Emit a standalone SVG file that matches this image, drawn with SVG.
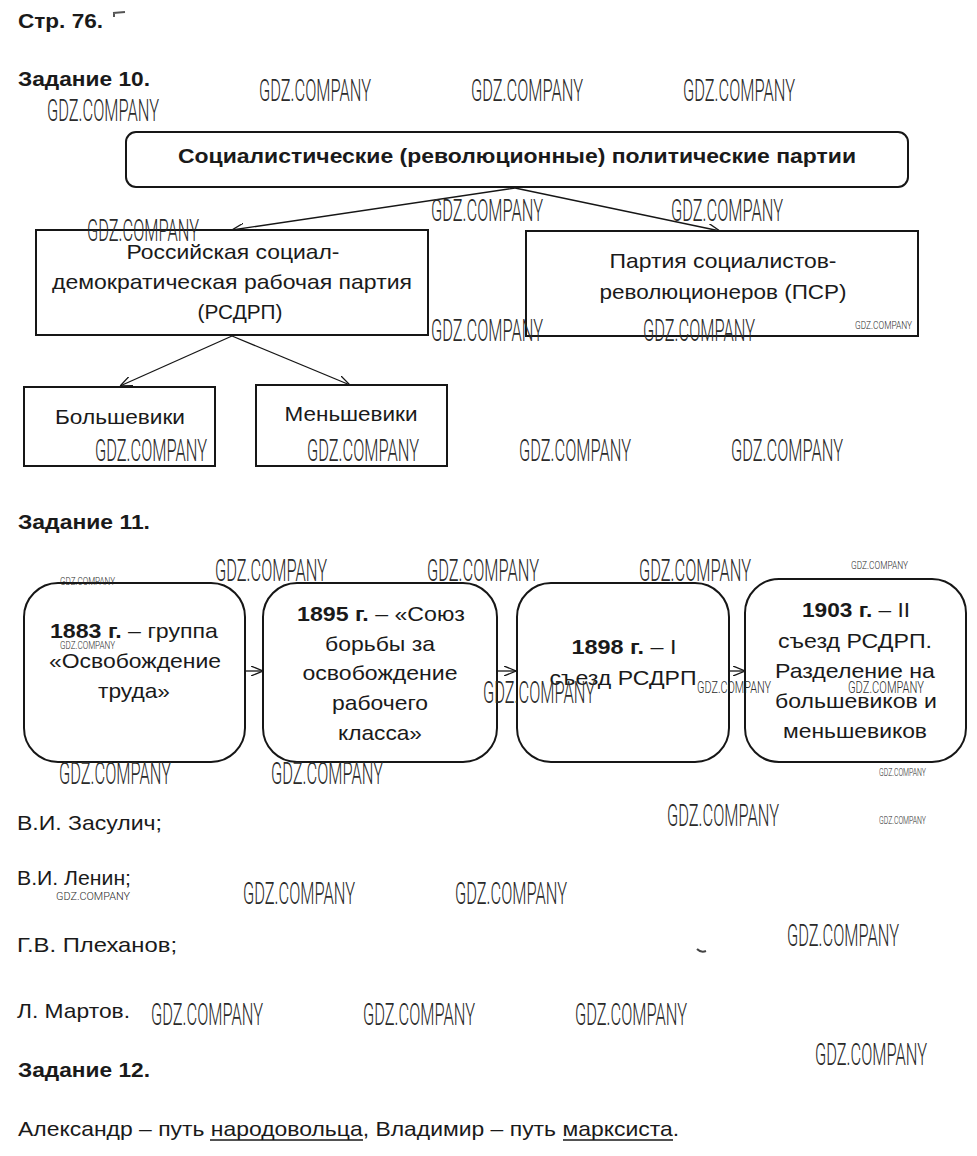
<svg xmlns="http://www.w3.org/2000/svg" width="977" height="1156" viewBox="0 0 977 1156">
<style>
.t{font-family:"Liberation Sans",Arial,sans-serif;fill:#1a1a1a;font-size:21px}
.h{font-family:"Liberation Sans",Arial,sans-serif;fill:#1a1a1a;font-size:20px;font-weight:bold}
.c{text-anchor:middle}
.b{font-weight:bold}
.box{fill:#fff;stroke:#161616;stroke-width:2}
.con{stroke:#161616;stroke-width:1.3;fill:none;marker-end:url(#arr)}
.wm{font-family:Roboto,"DejaVu Sans Condensed",sans-serif;font-weight:300;fill:#2a2a2a}
.L{font-size:31px}
.M{font-size:16px}
.S{font-size:11px}
</style>
<defs>
<marker id="arr" viewBox="0 0 12 10" refX="12" refY="5" markerWidth="12" markerHeight="10" markerUnits="userSpaceOnUse" orient="auto">
<path d="M0,0 L12,5 L0,10" fill="none" stroke="#161616" stroke-width="1.3"/>
</marker>
</defs>
<rect width="977" height="1156" fill="#fff"/>

<g id="headers">
<text class="h" x="18" y="28" textLength="85" lengthAdjust="spacingAndGlyphs">Стр. 76.</text>
<path d="M113,13 L125,12 M114,12 L114,17" stroke="#555" stroke-width="2" fill="none"/>
<text class="h" x="18" y="86" textLength="132" lengthAdjust="spacingAndGlyphs">Задание 10.</text>
<text class="h" x="18" y="529" textLength="132" lengthAdjust="spacingAndGlyphs">Задание 11.</text>
<text class="h" x="18" y="1077" textLength="132" lengthAdjust="spacingAndGlyphs">Задание 12.</text>
</g>

<g id="connectors">
<line class="con" x1="515" y1="188" x2="232" y2="230"/>
<line class="con" x1="515" y1="188" x2="720" y2="231"/>
<line class="con" x1="232" y1="336" x2="120" y2="386"/>
<line class="con" x1="232" y1="336" x2="350" y2="385"/>
<line class="con" x1="245" y1="671" x2="263" y2="671"/>
<line class="con" x1="497" y1="671" x2="516" y2="671"/>
<line class="con" x1="729" y1="671" x2="745" y2="671"/>
</g>

<g id="n-socialist">
<rect class="box" x="126" y="132" width="782" height="55" rx="10"/>
<text class="h c" x="517" y="163" textLength="678" lengthAdjust="spacingAndGlyphs">Социалистические (революционные) политические партии</text>
</g>

<g id="n-rsdrp">
<rect class="box" x="36" y="230" width="392" height="105"/>
<text class="t c" x="233" y="259" textLength="213" lengthAdjust="spacingAndGlyphs">Российская социал-</text>
<text class="t c" x="232" y="289" textLength="360" lengthAdjust="spacingAndGlyphs">демократическая рабочая партия</text>
<text class="t c" x="240" y="319" textLength="85" lengthAdjust="spacingAndGlyphs">(РСДРП)</text>
</g>

<g id="n-psr">
<rect class="box" x="526" y="231" width="392" height="105"/>
<text class="t c" x="723" y="268" textLength="227" lengthAdjust="spacingAndGlyphs">Партия социалистов-</text>
<text class="t c" x="723" y="299" textLength="247" lengthAdjust="spacingAndGlyphs">революционеров (ПСР)</text>
</g>

<g id="n-bolsheviks">
<rect class="box" x="24" y="387" width="191" height="79"/>
<text class="t c" x="120" y="424" textLength="130" lengthAdjust="spacingAndGlyphs">Большевики</text>
</g>

<g id="n-mensheviks">
<rect class="box" x="256" y="385" width="191" height="81"/>
<text class="t c" x="351" y="421" textLength="133" lengthAdjust="spacingAndGlyphs">Меньшевики</text>
</g>

<g id="n-1883">
<rect class="box" x="24" y="583" width="221" height="179" rx="34"/>
<text class="t c" x="134" y="638" textLength="168" lengthAdjust="spacingAndGlyphs"><tspan class="b">1883 г.</tspan> – группа</text>
<text class="t c" x="135" y="668" textLength="172" lengthAdjust="spacingAndGlyphs">«Освобождение</text>
<text class="t c" x="134" y="698" textLength="72" lengthAdjust="spacingAndGlyphs">труда»</text>
</g>

<g id="n-1895">
<rect class="box" x="263" y="583" width="234" height="179" rx="34"/>
<text class="t c" x="381" y="621" textLength="168" lengthAdjust="spacingAndGlyphs"><tspan class="b">1895 г.</tspan> – «Союз</text>
<text class="t c" x="380" y="651" textLength="110" lengthAdjust="spacingAndGlyphs">борьбы за</text>
<text class="t c" x="380" y="680" textLength="155" lengthAdjust="spacingAndGlyphs">освобождение</text>
<text class="t c" x="380" y="710" textLength="96" lengthAdjust="spacingAndGlyphs">рабочего</text>
<text class="t c" x="380" y="740" textLength="84" lengthAdjust="spacingAndGlyphs">класса»</text>
</g>

<g id="n-1898">
<rect class="box" x="517" y="583" width="212" height="179" rx="34"/>
<text class="t c" x="624" y="654" textLength="105" lengthAdjust="spacingAndGlyphs"><tspan class="b">1898 г.</tspan> – I</text>
<text class="t c" x="623" y="685" textLength="147" lengthAdjust="spacingAndGlyphs">съезд РСДРП</text>
</g>

<g id="n-1903">
<rect class="box" x="745" y="579" width="221" height="183" rx="34"/>
<text class="t c" x="856" y="617" textLength="108" lengthAdjust="spacingAndGlyphs"><tspan class="b">1903 г.</tspan> – II</text>
<text class="t c" x="855" y="648" textLength="154" lengthAdjust="spacingAndGlyphs">съезд РСДРП.</text>
<text class="t c" x="855" y="678" textLength="160" lengthAdjust="spacingAndGlyphs">Разделение на</text>
<text class="t c" x="856" y="708" textLength="162" lengthAdjust="spacingAndGlyphs">большевиков и</text>
<text class="t c" x="855" y="738" textLength="144" lengthAdjust="spacingAndGlyphs">меньшевиков</text>
</g>

<g id="answers">
<text class="t" x="17" y="830" textLength="145" lengthAdjust="spacingAndGlyphs">В.И. Засулич;</text>
<text class="t" x="17" y="885" textLength="114" lengthAdjust="spacingAndGlyphs">В.И. Ленин;</text>
<text class="t" x="17" y="952" textLength="160" lengthAdjust="spacingAndGlyphs">Г.В. Плеханов;</text>
<text class="t" x="17" y="1018" textLength="113" lengthAdjust="spacingAndGlyphs">Л. Мартов.</text>
<text class="t" x="18" y="1136" textLength="661" lengthAdjust="spacingAndGlyphs">Александр – путь народовольца, Владимир – путь марксиста.</text>
<path d="M210,1140 H363 M563,1140 H673" stroke="#1a1a1a" stroke-width="1.3"/>
<path d="M697,949 Q701,953 706,951" stroke="#444" stroke-width="2" fill="none"/>
</g>

<g id="watermarks">
<text class="wm L" x="47" y="121" textLength="112" lengthAdjust="spacingAndGlyphs">GDZ.COMPANY</text>
<text class="wm L" x="259" y="101" textLength="112" lengthAdjust="spacingAndGlyphs">GDZ.COMPANY</text>
<text class="wm L" x="471" y="101" textLength="112" lengthAdjust="spacingAndGlyphs">GDZ.COMPANY</text>
<text class="wm L" x="683" y="101" textLength="112" lengthAdjust="spacingAndGlyphs">GDZ.COMPANY</text>
<text class="wm L" x="87" y="241" textLength="112" lengthAdjust="spacingAndGlyphs">GDZ.COMPANY</text>
<text class="wm L" x="431" y="221" textLength="112" lengthAdjust="spacingAndGlyphs">GDZ.COMPANY</text>
<text class="wm L" x="671" y="221" textLength="112" lengthAdjust="spacingAndGlyphs">GDZ.COMPANY</text>
<text class="wm L" x="431" y="341" textLength="112" lengthAdjust="spacingAndGlyphs">GDZ.COMPANY</text>
<text class="wm L" x="643" y="341" textLength="112" lengthAdjust="spacingAndGlyphs">GDZ.COMPANY</text>
<text class="wm L" x="95" y="461" textLength="112" lengthAdjust="spacingAndGlyphs">GDZ.COMPANY</text>
<text class="wm L" x="307" y="461" textLength="112" lengthAdjust="spacingAndGlyphs">GDZ.COMPANY</text>
<text class="wm L" x="519" y="461" textLength="112" lengthAdjust="spacingAndGlyphs">GDZ.COMPANY</text>
<text class="wm L" x="731" y="461" textLength="112" lengthAdjust="spacingAndGlyphs">GDZ.COMPANY</text>
<text class="wm L" x="215" y="581" textLength="112" lengthAdjust="spacingAndGlyphs">GDZ.COMPANY</text>
<text class="wm L" x="427" y="581" textLength="112" lengthAdjust="spacingAndGlyphs">GDZ.COMPANY</text>
<text class="wm L" x="639" y="581" textLength="112" lengthAdjust="spacingAndGlyphs">GDZ.COMPANY</text>
<text class="wm L" x="483" y="703" textLength="112" lengthAdjust="spacingAndGlyphs">GDZ.COMPANY</text>
<text class="wm L" x="59" y="784" textLength="112" lengthAdjust="spacingAndGlyphs">GDZ.COMPANY</text>
<text class="wm L" x="271" y="784" textLength="112" lengthAdjust="spacingAndGlyphs">GDZ.COMPANY</text>
<text class="wm L" x="667" y="826" textLength="112" lengthAdjust="spacingAndGlyphs">GDZ.COMPANY</text>
<text class="wm L" x="243" y="904" textLength="112" lengthAdjust="spacingAndGlyphs">GDZ.COMPANY</text>
<text class="wm L" x="455" y="904" textLength="112" lengthAdjust="spacingAndGlyphs">GDZ.COMPANY</text>
<text class="wm L" x="787" y="946" textLength="112" lengthAdjust="spacingAndGlyphs">GDZ.COMPANY</text>
<text class="wm L" x="151" y="1025" textLength="112" lengthAdjust="spacingAndGlyphs">GDZ.COMPANY</text>
<text class="wm L" x="363" y="1025" textLength="112" lengthAdjust="spacingAndGlyphs">GDZ.COMPANY</text>
<text class="wm L" x="575" y="1025" textLength="112" lengthAdjust="spacingAndGlyphs">GDZ.COMPANY</text>
<text class="wm L" x="815" y="1065" textLength="112" lengthAdjust="spacingAndGlyphs">GDZ.COMPANY</text>
<text class="wm M" x="697" y="693" textLength="74" lengthAdjust="spacingAndGlyphs">GDZ.COMPANY</text>
<text class="wm M" x="848" y="693" textLength="76" lengthAdjust="spacingAndGlyphs">GDZ.COMPANY</text>
<text class="wm S" x="56" y="900" textLength="74" lengthAdjust="spacingAndGlyphs">GDZ.COMPANY</text>
<text class="wm S" x="855" y="329" textLength="57" lengthAdjust="spacingAndGlyphs">GDZ.COMPANY</text>
<text class="wm S" x="60" y="585" textLength="55" lengthAdjust="spacingAndGlyphs">GDZ.COMPANY</text>
<text class="wm S" x="851" y="569" textLength="57" lengthAdjust="spacingAndGlyphs">GDZ.COMPANY</text>
<text class="wm S" x="60" y="649" textLength="55" lengthAdjust="spacingAndGlyphs">GDZ.COMPANY</text>
<text class="wm S" x="879" y="776" textLength="47" lengthAdjust="spacingAndGlyphs">GDZ.COMPANY</text>
<text class="wm S" x="879" y="824" textLength="47" lengthAdjust="spacingAndGlyphs">GDZ.COMPANY</text>
</g>
</svg>
